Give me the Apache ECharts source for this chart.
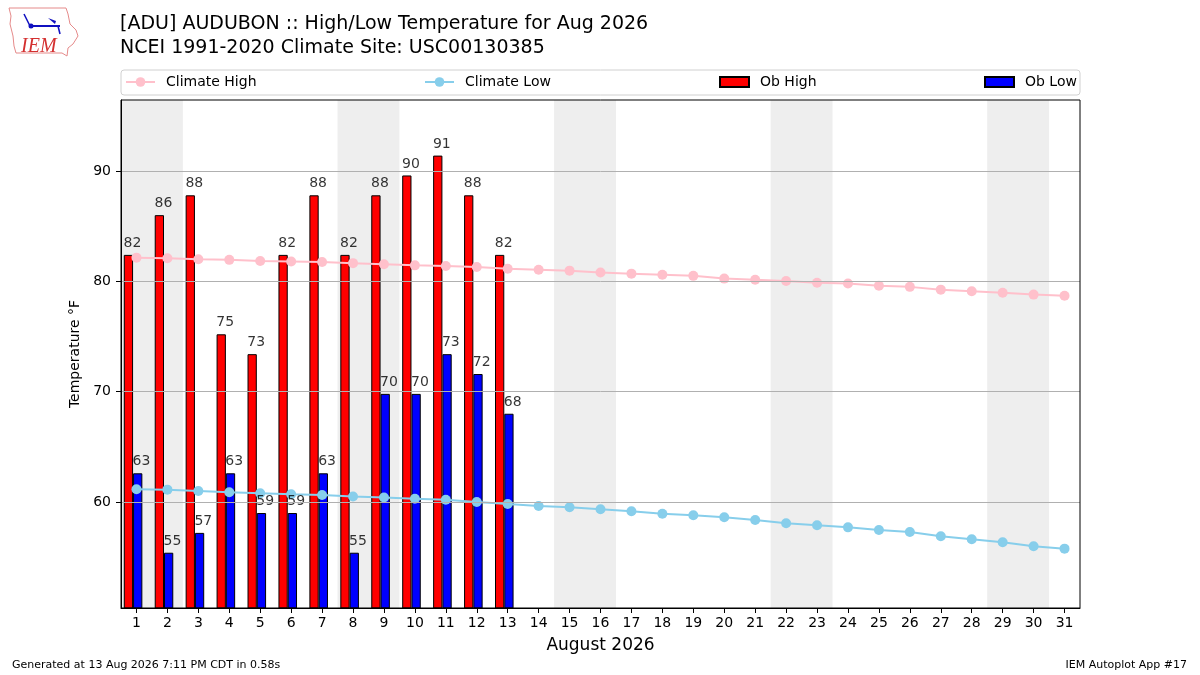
<!DOCTYPE html>
<html>
<head>
<meta charset="utf-8">
<script src="https://cdn.jsdelivr.net/npm/echarts@6/dist/echarts.min.js"></script>
<style>html,body{margin:0;padding:0;background:#fff}#c{width:1200px;height:675px}</style>
</head>
<body>
<div id="c"></div>
<script>
// ---- data ----
const days = ['1','2','3','4','5','6','7','8','9','10','11','12','13','14','15','16','17','18','19','20','21','22','23','24','25','26','27','28','29','30','31'];
const obHigh = [82.4, 86.0, 87.8, 75.2, 73.4, 82.4, 87.8, 82.4, 87.8, 89.6, 91.4, 87.8, 82.4];
const obLow = [62.6, 55.4, 57.2, 62.6, 59.0, 59.0, 62.6, 55.4, 69.8, 69.8, 73.4, 71.6, 68.0];
const climateHigh = [82.15, 82.1, 82.0, 81.95, 81.85, 81.8, 81.75, 81.65, 81.55, 81.45, 81.4, 81.3, 81.15, 81.06, 80.97, 80.8, 80.7, 80.6, 80.5, 80.25, 80.15, 80.03, 79.88, 79.8, 79.6, 79.5, 79.25, 79.1, 78.97, 78.8, 78.7];
const climateLow = [61.15, 61.12, 61.0, 60.88, 60.79, 60.7, 60.63, 60.5, 60.4, 60.3, 60.2, 60.0, 59.82, 59.64, 59.52, 59.34, 59.16, 58.94, 58.79, 58.61, 58.37, 58.07, 57.89, 57.7, 57.46, 57.28, 56.89, 56.62, 56.35, 55.99, 55.77];
const weekendStarts = [1, 8, 15, 22, 29];   // Sat/Sun pairs
const yTicks = [60, 70, 80, 90];
const yMin = 50.39, yMax = 96.44;
const title1 = '[ADU] AUDUBON :: High/Low Temperature for Aug 2026';
const title2 = 'NCEI 1991-2020 Climate Site: USC00130385';
const footLeft = 'Generated at 13 Aug 2026 7:11 PM CDT in 0.58s';
const footRight = 'IEM Autoplot App #17';

const FONT = 'DejaVu Sans';
const chart = echarts.init(document.getElementById('c'), null, {renderer: 'canvas'});

const bands = weekendStarts.map(d => [{xAxis: d - 0.5}, {xAxis: d + 1.5}]);
const labelCommon = {
  show: true, position: 'top', distance: 4,
  formatter: p => String(Math.round(p.value)),
  fontFamily: FONT, fontSize: 14, color: '#000'
};
const legendText = {fontFamily: FONT, fontSize: 14, color: '#000', padding: [0, 0, 0, 6]};

chart.setOption({
  animation: false,
  textStyle: {fontFamily: FONT},
  title: [
    {text: title1, left: 120, top: 15, padding: 0, textStyle: {fontFamily: FONT, fontSize: 19, fontWeight: 'normal', color: '#000'}},
    {text: title2, left: 120, top: 39, padding: 0, textStyle: {fontFamily: FONT, fontSize: 19, fontWeight: 'normal', color: '#000'}},
    {text: footLeft, left: 12, top: 660, padding: 0, textStyle: {fontFamily: FONT, fontSize: 11, fontWeight: 'normal', color: '#000'}},
    {text: footRight, right: 13, top: 660, padding: 0, textStyle: {fontFamily: FONT, fontSize: 11, fontWeight: 'normal', color: '#000'}}
  ],
  graphic: [
    {type: 'rect', z: 0, shape: {x: 121, y: 70, width: 959, height: 25, r: 3},
     style: {fill: '#fff', stroke: '#d0d0d0', lineWidth: 1}},
    {type: 'polygon', z: 0, shape: {points: [[9,8],[66,8],[68,14],[70,24],[76,30],[78,36],[73,44],[68,48],[67,56],[62,53],[16,53],[14,46],[13,36],[10,24],[11,16]]},
     style: {fill: 'none', stroke: '#e58a8a', lineWidth: 1}},
    {type: 'polyline', z: 0, shape: {points: [[30,26],[60,26]]}, style: {stroke: '#1010c0', lineWidth: 2}},
    {type: 'polyline', z: 0, shape: {points: [[24,14],[30,26]]}, style: {stroke: '#1010c0', lineWidth: 1.5}},
    {type: 'polyline', z: 0, shape: {points: [[58,26],[60,34]]}, style: {stroke: '#1010c0', lineWidth: 1.5}},
    {type: 'circle', z: 0, shape: {cx: 31, cy: 26, r: 2.5}, style: {fill: '#1010c0'}},
    {type: 'polygon', z: 0, shape: {points: [[48,18],[56,21],[55,24]]}, style: {fill: '#1010c0'}},
    {type: 'text', z: 0, x: 21, y: 37, style: {text: 'IEM', fontFamily: 'Liberation Serif', fontStyle: 'italic', fontSize: 20, fill: '#d43030'}}
  ],
  legend: [
    {data: ['Climate High'], left: 125, top: 75, itemWidth: 29, itemHeight: 12, selectedMode: false, padding: 0, textStyle: legendText},
    {data: ['Climate Low'], left: 424, top: 75, itemWidth: 29, itemHeight: 12, selectedMode: false, padding: 0, textStyle: legendText},
    {data: [{name: 'Ob High', icon: 'rect'}], left: 719, top: 75, itemWidth: 29, itemHeight: 10, selectedMode: false, padding: 0, textStyle: legendText},
    {data: [{name: 'Ob Low', icon: 'rect'}], left: 984, top: 75, itemWidth: 29, itemHeight: 10, selectedMode: false, padding: 0, textStyle: legendText}
  ],
  grid: {left: 121, right: 120, top: 100, bottom: 67, show: true, borderColor: '#000', borderWidth: 1, backgroundColor: 'transparent', z: 10},
  xAxis: [
    {type: 'category', data: days, boundaryGap: true, z: 10,
     axisLine: {show: true, lineStyle: {color: '#000', width: 1}},
     axisTick: {show: true, alignWithLabel: true, length: 5, lineStyle: {color: '#000'}},
     axisLabel: {fontFamily: FONT, fontSize: 14, color: '#000', margin: 8, interval: 0},
     splitLine: {show: false},
     name: 'August 2026', nameLocation: 'middle', nameGap: 29,
     nameTextStyle: {fontFamily: FONT, fontSize: 17, color: '#000'}},
    {type: 'value', min: 0.5, max: 31.5, show: false}
  ],
  yAxis: {type: 'value', min: yMin, max: yMax, z: 10,
    axisLine: {show: true, lineStyle: {color: '#000', width: 1}},
    axisTick: {show: true, length: 5, customValues: yTicks, lineStyle: {color: '#000'}},
    axisLabel: {fontFamily: FONT, fontSize: 14, color: '#000', margin: 10, customValues: yTicks},
    splitLine: {show: false},
    name: 'Temperature °F', nameLocation: 'middle', nameGap: 33,
    nameTextStyle: {fontFamily: FONT, fontSize: 14, color: '#000'}},
  series: [
    {type: 'line', xAxisIndex: 1, data: [], z: 1, silent: true,
     markArea: {silent: true, itemStyle: {color: '#eeeeee'}, data: bands}},
    {type: 'line', xAxisIndex: 1, data: [], z: 1.5, silent: true,
     markLine: {silent: true, symbol: 'none', label: {show: false},
       lineStyle: {color: '#b0b0b0', width: 1, type: 'solid'},
       data: yTicks.map(v => ({yAxis: v}))}},
    {name: 'Ob High', type: 'bar', data: obHigh, barWidth: '30%', barGap: '0%', z: 2,
     itemStyle: {color: '#ff0000', borderColor: '#000', borderWidth: 1}},
    {name: 'Ob Low', type: 'bar', data: obLow, barWidth: '30%', barGap: '0%', z: 2,
     itemStyle: {color: '#0000ff', borderColor: '#000', borderWidth: 1}},
    {name: 'spacer', type: 'bar', data: [], barWidth: '22%', barGap: '0%', z: 2},
    {name: 'Climate High', type: 'line', data: climateHigh, z: 3, symbol: 'circle', symbolSize: 10, showSymbol: true,
     itemStyle: {color: '#ffc0cb'}, lineStyle: {color: '#ffc0cb', width: 2}},
    {name: 'Climate Low', type: 'line', data: climateLow, z: 3, symbol: 'circle', symbolSize: 10, showSymbol: true,
     itemStyle: {color: '#87ceeb'}, lineStyle: {color: '#87ceeb', width: 2}},
    {name: 'hiLabels', type: 'scatter', data: obHigh, z: 4, silent: true, symbolSize: 1,
     itemStyle: {color: 'rgba(0,0,0,0)'}, label: Object.assign({offset: [-4, 0]}, labelCommon)},
    {name: 'loLabels', type: 'scatter', data: obLow, z: 4, silent: true, symbolSize: 1,
     itemStyle: {color: 'rgba(0,0,0,0)'}, label: Object.assign({offset: [5, 0]}, labelCommon)}
  ]
});
</script>
</body>
</html>
